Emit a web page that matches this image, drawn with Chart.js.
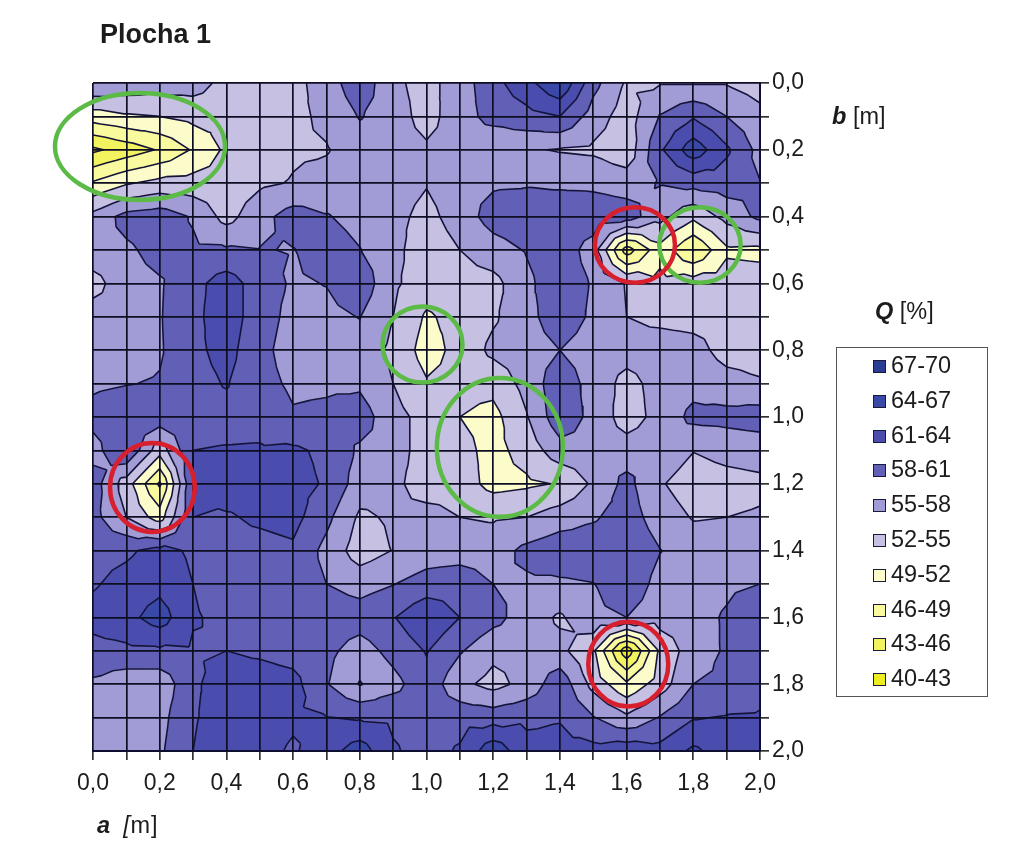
<!DOCTYPE html>
<html>
<head>
<meta charset="utf-8">
<title>Plocha 1</title>
<script src="https://cdn.jsdelivr.net/npm/chart.js@4"></script>
<style>
    html, body { margin: 0; padding: 0; background: #fff; overflow: hidden; }
    #wrap { position: relative; width: 1023px; height: 850px; font-family: "Liberation Sans", Arial, sans-serif; color: #1c1c1c; }
    #wrap canvas { position: absolute; left: 0; top: 0; }
    .lbl { position: absolute; font-size: 23.5px; line-height: 26px; white-space: nowrap; }
    #legend { position: absolute; left: 836px; top: 347px; width: 150px; height: 348px; border: 1px solid #555; background: #fff; }
    .item { position: absolute; left: 36px; height: 26px; font-size: 23.5px; line-height: 26px; white-space: nowrap; }
    .item i { display: inline-block; width: 11px; height: 11px; border: 1.5px solid #1a1a3a; margin-right: 5px; }
</style>
</head>
<body>
<div id="wrap">
    <canvas id="chartRef" width="1023" height="850"></canvas>
    <div class="lbl" style="left:100px;top:21px;font-size:27px;font-weight:bold">Plocha 1</div>
    <div class="lbl" style="left:832px;top:103px"><b><i>b</i></b> [m]</div>
    <div class="lbl" style="left:875px;top:298px"><b><i>Q</i></b> [%]</div>
    <div class="lbl" style="left:97px;top:812px;word-spacing:5px;letter-spacing:0.8px"><b><i>a</i></b> <i>[</i>m]</div>
    <div id="legend"></div>
</div>
<script>
// Q [%], one row per b = 0,0 .. 2,0, columns a = 0,0 .. 2,0
const q00 = [58, 57, 56.5, 56.4, 54, 53.5, 54, 56.5, 60, 55.6, 54, 56.5, 60, 63, 66.8, 59, 54.6, 54.8, 54.8, 54.8, 53.5];
const q01 = [50.5, 51.6, 52, 52.9, 53, 53.5, 54.2, 55.7, 58.2, 56.5, 53.8, 56.8, 59, 60, 61, 56.6, 53.5, 58.2, 60.7, 58, 56];
const q02 = [42.4, 44.3, 46.3, 49.3, 52.6, 53.5, 54.6, 54.8, 56.5, 56.5, 55.5, 56.5, 55.5, 55.3, 54.8, 54.5, 53, 60.5, 65.8, 61.5, 57];
const q03 = [49.4, 51.7, 53, 53.2, 53, 54.5, 55.2, 56, 56.7, 56.5, 55.2, 57, 57.6, 57.7, 57.4, 57.3, 56.7, 58.2, 59, 59.5, 58.1];
const q04 = [56, 59, 59.7, 57.7, 53.9, 57, 59.3, 58.2, 57, 56, 54, 56.5, 59.2, 60, 60.5, 60, 59.5, 56, 52.7, 56, 58.75];
const q05 = [57, 57.5, 59, 58.5, 58.4, 58.1, 57.9, 59.5, 58.1, 56, 53, 55, 56.8, 58.2, 60, 56.5, 44.5, 51, 46, 51.5, 51.25];
const q06 = [53.8, 57, 57.7, 60, 62.5, 59.5, 57.6, 58.1, 60, 55.5, 53.5, 53.8, 54, 57.3, 60, 57.7, 54.8, 52.8, 53.5, 53.5, 53.3];
const q07 = [56.5, 56.5, 57.8, 60.3, 62.5, 59.5, 57, 57.2, 58.1, 55, 51.6, 53, 54.6, 56.9, 60, 57.4, 55, 54.3, 54, 54, 54];
const q08 = [57, 57, 57.7, 60.3, 62, 59, 56.5, 56.5, 56.5, 54.4, 50.7, 53, 55.7, 56.5, 58, 56.5, 56.1, 56.4, 56, 54, 53.8];
const q09 = [57.5, 57.9, 58.2, 60, 61.2, 59, 57.5, 57.5, 57.5, 55, 52.3, 53, 53, 56, 60, 56.7, 54.1, 56, 57, 56, 55.3];
const q10 = [59, 60, 60, 60, 60, 60, 58.3, 58.7, 59.5, 56, 54, 52, 51, 54.8, 60, 57.1, 53.6, 56, 58.8, 59, 59.5];
const q11 = [56.8, 61, 53.2, 61, 61.2, 61.3, 61.5, 60.4, 57.5, 57, 53, 53, 51, 53.2, 56.8, 57, 56.4, 57, 55.1, 55.9, 56.2];
const q12 = [59.5, 53.5, 45.5, 61, 62.5, 62, 62, 60.7, 56.5, 56, 53, 53.5, 51, 51.5, 52.2, 55.5, 58.9, 55.3, 53.5, 54, 54.4];
const q13 = [59, 55, 50.5, 61, 60.7, 61.5, 62, 58.8, 54.5, 55.4, 56.5, 55, 54.7, 55, 56.5, 57.6, 59.5, 56.5, 54.8, 55, 55.3];
const q14 = [60, 60.5, 62, 60.5, 60, 60, 60.5, 57.1, 53.5, 55.1, 56.4, 56.5, 56.5, 58.8, 60, 60, 60.5, 58.1, 56.5, 56.5, 56.8];
const q15 = [60.7, 62, 63, 61, 60, 60, 60, 58, 56.8, 57.9, 59.3, 60, 58, 57.5, 57.5, 57.9, 60, 57, 56.8, 57.5, 58];
const q16 = [62, 63, 65.5, 61.2, 60.5, 60, 60, 60, 59.5, 60.8, 63.5, 61, 59, 56.5, 54.6, 57.3, 58, 56.5, 57, 58.3, 60];
const q17 = [60, 60.4, 60.5, 60.7, 61, 60.5, 59.8, 58.8, 56.6, 59, 61.2, 58.3, 55.8, 56, 55.8, 52.5, 41, 52.5, 56.8, 58.3, 60];
const q18 = [57.5, 56, 55.9, 60.5, 62.5, 62.5, 62, 58.2, 54.8, 57, 60, 55.8, 54, 56, 60, 54, 49.6, 53.5, 58, 58.5, 60];
const q19 = [56.5, 56.5, 57, 60.7, 62.5, 62.5, 61.5, 61.1, 60.7, 60.5, 60, 60, 59.7, 60.4, 60.8, 58.2, 55.6, 58.2, 60.8, 61.2, 61.3];
const q20 = [56.5, 56.5, 57.5, 61, 63, 62, 60.6, 62.8, 65.5, 61.3, 60, 61.3, 66, 62, 62, 62, 62.9, 62, 64.6, 62.5, 62.5];

const bandLabels = ["67-70", "64-67", "61-64", "58-61", "55-58", "52-55", "49-52", "46-49", "43-46", "40-43"];
const bandLows = [67, 64, 61, 58, 55, 52, 49, 46, 43, 40];
const bandColors = ["#2b3d92", "#3a48a8", "#4a4dae", "#625fb6", "#a29cd6", "#c6c0e3", "#fcfcca", "#f9f99e", "#f3f360", "#eded20"];
const tickLabels = ["0,0", "0,2", "0,4", "0,6", "0,8", "1,0", "1,2", "1,4", "1,6", "1,8", "2,0"];

// circled spots in data units: a, b, radius a, radius b
const greenRings = [[0.141, 0.19, 0.255, 0.16], [1.82, 0.485, 0.122, 0.113], [0.988, 0.783, 0.12, 0.114], [1.22, 1.091, 0.189, 0.208]];
const redRings = [[1.625, 0.485, 0.12, 0.113], [0.178, 1.211, 0.127, 0.133], [1.605, 1.74, 0.12, 0.127]];

const rows = [q00, q01, q02, q03, q04, q05, q06, q07, q08, q09, q10, q11, q12, q13, q14, q15, q16, q17, q18, q19, q20];
const step = 0.1;
const lineColor = "#14143a";
const nudge = 0.001; // keeps a level from landing exactly on a grid value
const gap = { x: NaN, y: NaN };

// keep the part of a polygon where sign * (v - limit) >= 0
function clip(poly, limit, sign) {
    const out = [];
    poly.forEach((p, i) => {
        const n = poly[(i + 1) % poly.length];
        const dp = sign * (p.v - limit);
        const dn = sign * (n.v - limit);
        if (dp >= 0) out.push(p);
        if ((dp > 0 && dn < 0) || (dp < 0 && dn > 0)) {
            const t = (limit - p.v) / (n.v - p.v);
            out.push({ x: p.x + t * (n.x - p.x), y: p.y + t * (n.y - p.y), v: limit, cut: true });
        }
    });
    return out;
}

// every grid cell is cut into four triangles around its mean, as the contour in the picture is
const triangles = [];
for (let j = 0; j < rows.length - 1; j++) {
    for (let i = 0; i < rows[j].length - 1; i++) {
        const corner = (r, c) => ({ x: c * step, y: r * step, v: rows[r][c] });
        const box = [corner(j, i), corner(j, i + 1), corner(j + 1, i + 1), corner(j + 1, i)];
        const mid = {
            x: (i + 0.5) * step,
            y: (j + 0.5) * step,
            v: (box[0].v + box[1].v + box[2].v + box[3].v) / 4
        };
        box.forEach((p, k) => triangles.push([mid, p, box[(k + 1) % 4]]));
    }
}

// filled bands, one dataset per band, drawn by the bandFill plugin below
const datasets = bandLows.map((low, b) => {
    const pts = [];
    triangles.forEach(tri => {
        const poly = clip(clip(tri, low + nudge, 1), low + 3 + nudge, -1);
        if (poly.length < 3) return;
        poly.forEach(p => pts.push({ x: p.x, y: p.y }));
        pts.push(gap);
    });
    return {
        label: bandLabels[b],
        data: pts,
        bandColor: bandColors[b],
        showLine: false,
        pointRadius: 0,
        order: 2
    };
});

// contour lines, one dataset per level, gaps between the pieces
bandLows.slice(0, -1).forEach(level => {
    const pts = [];
    triangles.forEach(tri => {
        const poly = clip(tri, level + nudge, 1);
        poly.forEach((p, k) => {
            const n = poly[(k + 1) % poly.length];
            if (p.cut && n.cut) {
                pts.push({ x: p.x, y: p.y }, { x: n.x, y: n.y }, gap);
            }
        });
    });
    datasets.push({
        label: "level " + level,
        data: pts,
        showLine: true,
        fill: false,
        borderColor: lineColor,
        borderWidth: 1.6,
        pointRadius: 0,
        spanGaps: false,
        order: 1
    });
});

// paints each band from the pixel positions the scales gave its points
const bandFill = {
    id: "bandFill",
    beforeDatasetsDraw(chart) {
        const { ctx } = chart;
        ctx.save();
        ctx.lineWidth = 0.7;
        chart.data.datasets.forEach((ds, index) => {
            if (!ds.bandColor) return;
            let fresh = true;
            ctx.beginPath();
            chart.getDatasetMeta(index).data.forEach(pt => {
                if (Number.isNaN(pt.x) || Number.isNaN(pt.y)) {
                    ctx.closePath();
                    fresh = true;
                } else if (fresh) {
                    ctx.moveTo(pt.x, pt.y);
                    fresh = false;
                } else {
                    ctx.lineTo(pt.x, pt.y);
                }
            });
            ctx.fillStyle = ds.bandColor;
            ctx.strokeStyle = ds.bandColor;
            ctx.fill();
            ctx.stroke();
        });
        ctx.restore();
    }
};

const rings = {
    id: "rings",
    afterDraw(chart) {
        const { ctx, scales: { x, y } } = chart;
        const draw = (list, color) => list.forEach(r => {
            const cx = x.getPixelForValue(r[0]);
            const cy = y.getPixelForValue(r[1]);
            const rx = Math.abs(x.getPixelForValue(r[0] + r[2]) - cx);
            const ry = Math.abs(y.getPixelForValue(r[1] + r[3]) - cy);
            ctx.beginPath();
            ctx.ellipse(cx, cy, rx, ry, 0, 0, Math.PI * 2);
            ctx.strokeStyle = color;
            ctx.lineWidth = 4.5;
            ctx.stroke();
        });
        ctx.save();
        draw(greenRings, "#5cbb46");
        draw(redRings, "#d81f2e");
        ctx.restore();
    }
};

function tenthLabel(value) {
    const n = Math.round(value * 10);
    return n % 2 ? "" : tickLabels[n / 2];
}

const axisFont = { family: "'Liberation Sans', Arial, sans-serif", size: 23 };
const gridStyle = { color: "#0e0e22", lineWidth: 1.7, z: 1, drawTicks: true, tickLength: 9, tickColor: "#333" };
const borderStyle = { color: "#0e0e30", width: 2, z: 2 };

new Chart(document.getElementById("chartRef"), {
    type: "scatter",
    data: { datasets: datasets },
    options: {
        responsive: false,
        animation: false,
        events: [],
        devicePixelRatio: 1,
        layout: { padding: { left: 93, top: 83, right: 0, bottom: 0 } },
        plugins: { legend: { display: false }, tooltip: { enabled: false } },
        elements: { line: { tension: 0 } },
        scales: {
            x: {
                type: "linear",
                position: "bottom",
                min: 0,
                max: 2,
                afterFit(scale) { scale.height = 99; },
                grid: gridStyle,
                border: borderStyle,
                ticks: {
                    stepSize: step,
                    autoSkip: false,
                    maxRotation: 0,
                    padding: 10,
                    color: "#1c1c1c",
                    font: axisFont,
                    callback: tenthLabel
                }
            },
            y: {
                type: "linear",
                position: "right",
                reverse: true,
                min: 0,
                max: 2,
                afterFit(scale) { scale.width = 263; },
                grid: gridStyle,
                border: borderStyle,
                ticks: {
                    stepSize: step,
                    autoSkip: false,
                    padding: 3,
                    color: "#1c1c1c",
                    font: axisFont,
                    callback: tenthLabel
                }
            }
        }
    },
    plugins: [bandFill, rings]
});

// legend box
const legend = document.getElementById("legend");
bandLabels.forEach((label, i) => {
    const item = document.createElement("div");
    item.className = "item";
    item.style.top = (4 + i * 34.8) + "px";
    const swatch = document.createElement("i");
    swatch.style.background = bandColors[i];
    item.appendChild(swatch);
    item.appendChild(document.createTextNode(label));
    legend.appendChild(item);
});
</script>
</body>
</html>
